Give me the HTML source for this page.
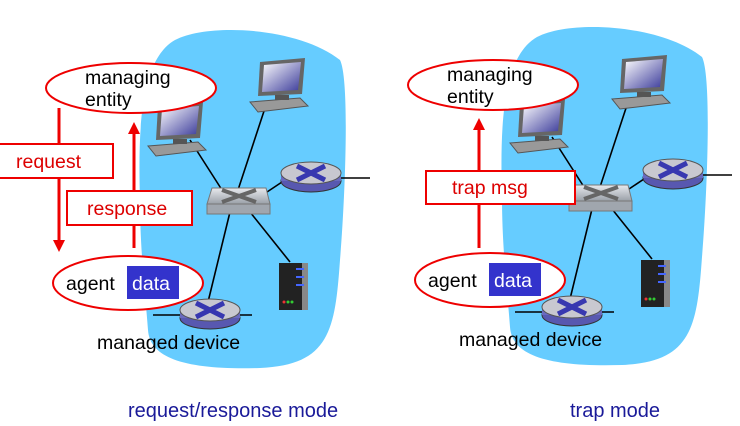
<!DOCTYPE html>
<html><head><meta charset="utf-8"><style>
html,body{margin:0;padding:0;background:#fff;}
svg{display:block;font-family:"Liberation Sans",sans-serif;}
</style></head><body>
<svg width="740" height="426" viewBox="0 0 740 426" xmlns="http://www.w3.org/2000/svg">
<defs>
<linearGradient id="scr" x1="0" y1="0" x2="1" y2="1"><stop offset="0" stop-color="#fff"/><stop offset="1" stop-color="#3a3a9a"/></linearGradient>
<linearGradient id="sw" x1="0" y1="0" x2="0" y2="1"><stop offset="0" stop-color="#e8eaee"/><stop offset="1" stop-color="#9aa0a8"/></linearGradient>
<g id="pc">
<polygon points="10,0 55,-4 52,32 8,34" fill="#666"/>
<polygon points="14,3 51,0 48,28 12,30" fill="url(#scr)"/>
<polygon points="0,40 50,36 58,44 8,50" fill="#999" stroke="#555" stroke-width="1"/>
<rect x="25" y="33" width="14" height="5" fill="#555"/>
</g>
<g id="rt">
<ellipse cx="0" cy="8" rx="30" ry="11" fill="#5858b0" stroke="#333" stroke-width="1"/>
<rect x="-30" y="0" width="60" height="8" fill="#6a6ac0"/>
<ellipse cx="0" cy="0" rx="30" ry="11" fill="#c8c8d0" stroke="#555" stroke-width="1"/>
<path d="M-14,-7 L14,7 M-14,7 L14,-7" stroke="#3838b0" stroke-width="5"/>
</g>
<g id="net">
<path d="M175,40 C210,22 300,28 340,60 C350,80 345,200 340,260 C335,330 330,365 260,368 C190,370 150,360 148,330 C145,290 140,250 140,200 C138,130 140,60 175,40 Z" fill="#66ccff"/>
<g stroke="#000" stroke-width="1.6" fill="none">
<line x1="190" y1="140" x2="222" y2="190"/>
<line x1="267" y1="102" x2="238" y2="190"/>
<line x1="258" y1="198" x2="285" y2="180"/>
<line x1="230" y1="212" x2="208" y2="302"/>
<line x1="250" y1="212" x2="290" y2="262"/>
<line x1="340" y1="178" x2="370" y2="178"/>
<line x1="153" y1="315" x2="252" y2="315"/>
</g>
<use href="#pc" x="148" y="106"/>
<use href="#pc" x="250" y="62"/>
<polygon points="212,188 266,188 270,204 207,204" fill="url(#sw)" stroke="#777"/>
<rect x="207" y="204" width="63" height="10" fill="#a0a6ae" stroke="#777"/>
<path d="M222,190 L256,202 M222,202 L256,190" stroke="#666" stroke-width="4"/>
<use href="#rt" x="311" y="173"/>
<use href="#rt" x="210" y="310"/>
<rect x="279" y="263" width="28" height="47" fill="#222"/>
<rect x="302" y="263" width="6" height="47" fill="#888"/>
<g fill="#4466ff"><rect x="296" y="268" width="8" height="2"/><rect x="296" y="276" width="8" height="2"/><rect x="296" y="284" width="8" height="2"/></g>
<circle cx="284" cy="302" r="1.5" fill="#e33"/><circle cx="288" cy="302" r="1.5" fill="#3c3"/><circle cx="292" cy="302" r="1.5" fill="#3c3"/>
<text x="97" y="349" font-size="19.5" fill="#000">managed device</text>
</g>
<g id="ents">
<ellipse cx="131" cy="88" rx="85" ry="25" fill="#fff" stroke="#e00" stroke-width="2"/>
<text x="85" y="84" font-size="19.5" fill="#000">managing</text>
<text x="85" y="106" font-size="19.5" fill="#000">entity</text>
<ellipse cx="128" cy="283" rx="75" ry="27" fill="#fff" stroke="#e00" stroke-width="2"/>
<text x="66" y="290" font-size="19.5" fill="#000">agent</text>
<rect x="127" y="266" width="52" height="33" fill="#3333cc"/>
<text x="132" y="290" font-size="19.5" fill="#fff">data</text>
</g>
</defs>

<use href="#net"/>
<use href="#ents"/>
<g stroke="#e00" stroke-width="3" fill="#e00">
<line x1="59" y1="108" x2="59" y2="242"/>
<polygon points="53,240 65,240 59,252" stroke="none"/>
<line x1="134" y1="248" x2="134" y2="132"/>
<polygon points="128,134 140,134 134,122" stroke="none"/>
</g>
<rect x="-2" y="144" width="115" height="34" fill="#fff" stroke="#e00" stroke-width="2"/>
<text x="16" y="168" font-size="19.5" fill="#d00">request</text>
<rect x="67" y="191" width="125" height="34" fill="#fff" stroke="#e00" stroke-width="2"/>
<text x="87" y="215" font-size="19.5" fill="#d00">response</text>
<text x="128" y="417" font-size="20" fill="#1a1a99">request/response mode</text>

<g transform="translate(362,-3)">
<use href="#net"/>
<use href="#ents"/>
</g>
<g stroke="#e00" stroke-width="3" fill="#e00">
<line x1="479" y1="248" x2="479" y2="128"/>
<polygon points="473,130 485,130 479,118" stroke="none"/>
</g>
<rect x="426" y="171" width="149" height="33" fill="#fff" stroke="#e00" stroke-width="2"/>
<text x="452" y="194" font-size="19.5" fill="#d00">trap msg</text>
<text x="570" y="417" font-size="20" fill="#1a1a99">trap mode</text>
</svg>
</body></html>
